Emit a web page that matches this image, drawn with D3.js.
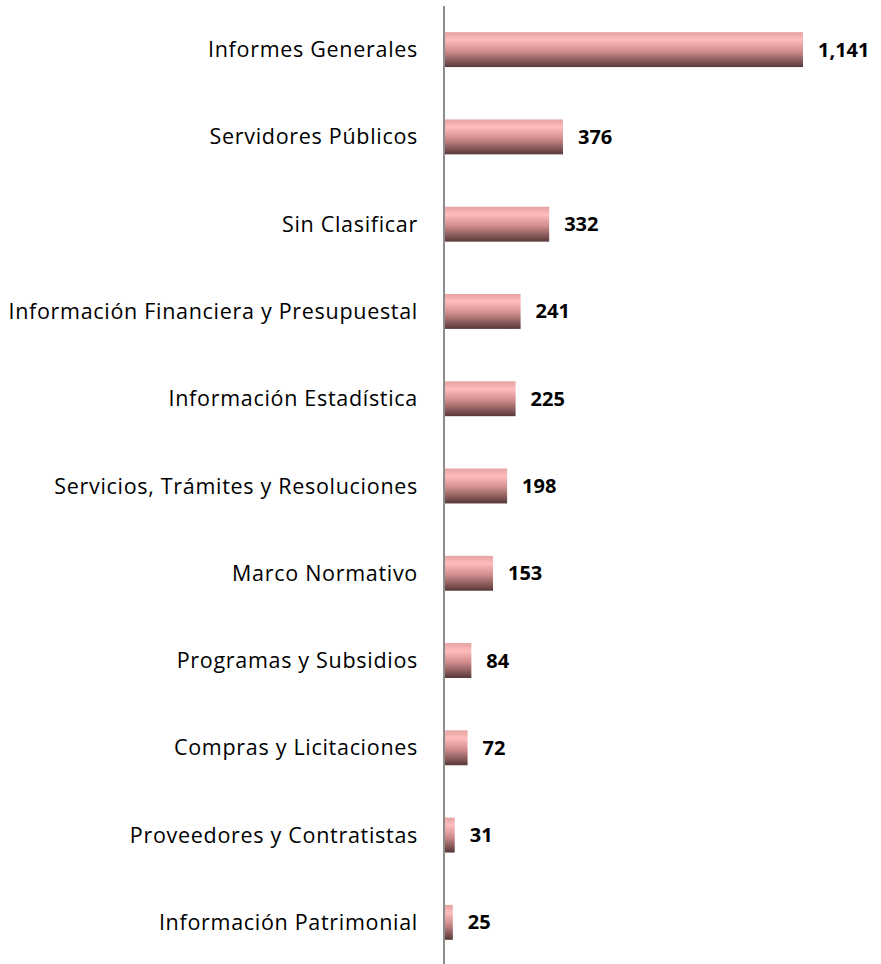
<!DOCTYPE html>
<html>
<head>
<meta charset="utf-8">
<script src="https://cdn.jsdelivr.net/npm/d3@7"></script>
<style>
  body { margin: 0; background: #fff; }
  svg { display: block; }
</style>
</head>
<body>
<div id="chart"></div>
<script>
// categories and values
var categories = [
  "Informes Generales",
  "Servidores Públicos",
  "Sin Clasificar",
  "Información Financiera y Presupuestal",
  "Información Estadística",
  "Servicios, Trámites y Resoluciones",
  "Marco Normativo",
  "Programas y Subsidios",
  "Compras y Licitaciones",
  "Proveedores y Contratistas",
  "Información Patrimonial"
]
var values = [1141, 376, 332, 241, 225, 198, 153, 84, 72, 31, 25]

var W = 881, H = 964
var axisX = 445

var svg = d3.select("#chart").append("svg")
    .attr("width", W)
    .attr("height", H)

/// bar gradient: light pink on top, dark brown at bottom
var grad = svg.append("defs").append("linearGradient")
    .attr("id", "barGrad")
    .attr("x1", 0).attr("y1", 0).attr("x2", 0).attr("y2", 1)
grad.append("stop").attr("offset", "0%").attr("stop-color", "#e4a2a2")
grad.append("stop").attr("offset", "22%").attr("stop-color", "#ffbcbc")
grad.append("stop").attr("offset", "55%").attr("stop-color", "#d08c8c")
grad.append("stop").attr("offset", "100%").attr("stop-color", "#573838")

var x = d3.scaleLinear()
    .domain([0, 1141])
    .range([axisX, 803])

var y = d3.scaleBand()
    .domain(categories)
    .range([6, 966])
    .paddingInner(0.6)
    .paddingOuter(0.3)

var data = categories.map((c, i) => ({cat: c, val: values[i]}))

svg.selectAll("rect.bar")
    .data(data)
    .enter().append("rect")
    .attr("class", "bar")
    .attr("x", x(0))
    .attr("y", d => y(d.cat))
    .attr("width", d => x(d.val) - x(0))
    .attr("height", y.bandwidth())
    .attr("fill", "url(#barGrad)")

/// category labels
svg.selectAll("text.cat")
    .data(data)
    .enter().append("text")
    .attr("class", "cat")
    .attr("x", axisX - 27)
    .attr("y", d => y(d.cat) + y.bandwidth() / 2)
    .attr("dy", "0.35em")
    .attr("text-anchor", "end")
    .attr("font-family", "'Open Sans', sans-serif")
    .attr("font-size", "21.5px")
    .attr("letter-spacing", "0.7px")
    .attr("fill", "#000")
    .text(d => d.cat)

/// value labels
svg.selectAll("text.val")
    .data(data)
    .enter().append("text")
    .attr("class", "val")
    .attr("x", d => x(d.val) + 15)
    .attr("y", d => y(d.cat) + y.bandwidth() / 2)
    .attr("dy", "0.35em")
    .attr("font-family", "'Open Sans', sans-serif")
    .attr("font-weight", "bold")
    .attr("font-size", "20px")
    .attr("fill", "#000")
    .text(d => d3.format(",")(d.val))

/// vertical axis line
svg.append("line")
    .attr("x1", axisX - 1).attr("x2", axisX - 1)
    .attr("y1", 6).attr("y2", H)
    .attr("stroke", "#8c8c8c")
    .attr("stroke-width", 2)
</script>
</body>
</html>
